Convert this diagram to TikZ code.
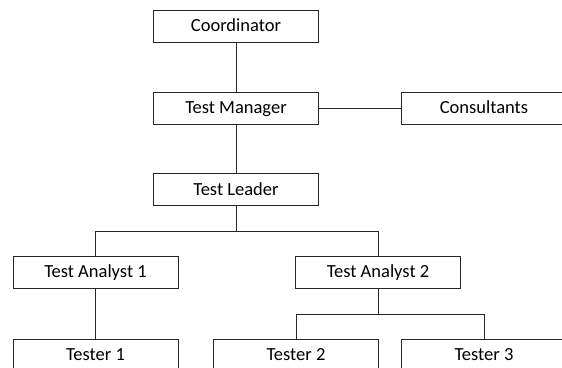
\documentclass[tikz,border=0pt]{standalone}
\usepackage{fontspec}
\setmainfont{Carlito}
\usepackage{tikz}
\tikzset{orgbox/.style={draw=black!85, line width=0.9pt, minimum width=165pt, minimum height=32pt, inner sep=0pt, text height=13pt, text depth=2pt, font=\fontsize{18.5}{22}\selectfont},
         orgline/.style={draw=black!85, line width=0.9pt}}

\begin{document}
\begin{tikzpicture}[x=1pt,y=-1pt]
       \useasboundingbox (0,0) rectangle (562,367);
       \clip (0,0) rectangle (562,367);
       \begin{scope}
        \node[orgbox] (coord) at (236,  26) {Coordinator};
        \node[orgbox] (mgr)   at (236, 108) {Test Manager};
        \node[orgbox] (cons)  at (484, 108) {Consultants};
        \node[orgbox] (lead)  at (236, 189.5) {Test Leader};
        \node[orgbox] (ta1)   at (95.5, 272) {Test Analyst 1};
        \node[orgbox] (ta2)   at (378, 272) {Test Analyst 2};
        \node[orgbox] (t1)    at (95.5, 355) {Tester 1};
        \node[orgbox] (t2)    at (296, 355) {Tester 2};
        \node[orgbox] (t3)    at (484, 355) {Tester 3};
       \end{scope}
       \begin{scope}[orgline]
        \draw (coord) -- (mgr);
        \draw (mgr) -- (cons);
        \draw (mgr) -- (lead);
        \draw (lead.south) -- ++(0,25.5) -| (ta1.north);
        \draw (lead.south) -- ++(0,25.5) -| (ta2.north);
        \draw (ta1) -- (t1);
        \draw (ta2.south) -- ++(0,25.7) -| (t2.north);
        \draw (ta2.south) -- ++(0,25.7) -| (t3.north);
       \end{scope}
      \end{tikzpicture}
\end{document}
